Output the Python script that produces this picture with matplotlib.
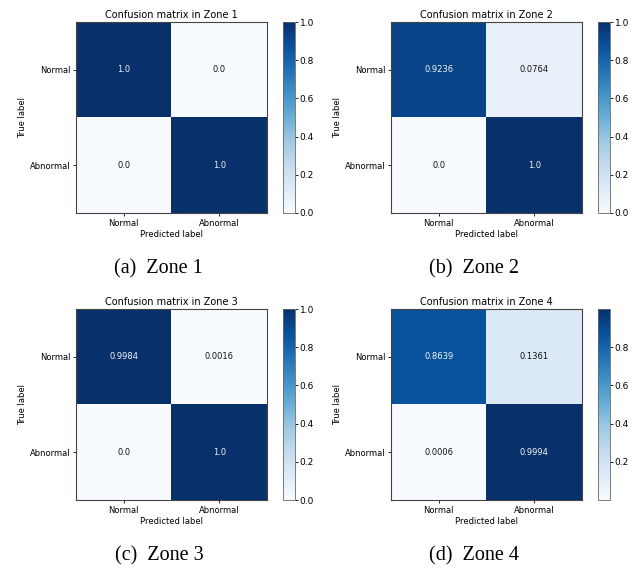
import numpy as np
import matplotlib
matplotlib.use('Agg')
import matplotlib.pyplot as plt

classes = ['Normal', 'Abnormal']
zones = ['Zone 1', 'Zone 2', 'Zone 3', 'Zone 4']
captions = ['(a)  Zone 1', '(b)  Zone 2', '(c)  Zone 3', '(d)  Zone 4']

cm_zone1 = [[1.0, 0.0], [0.0, 1.0]]
cm_zone2 = [[0.9236, 0.0764], [0.0, 1.0]]
cm_zone3 = [[0.9984, 0.0016], [0.0, 1.0]]
cm_zone4 = [[0.8639, 0.1361], [0.0006, 0.9994]]
matrices = [cm_zone1, cm_zone2, cm_zone3, cm_zone4]

W, H = 638, 568
fig = plt.figure(figsize=(W / 100, H / 100), dpi=100)

# pixel boxes (left, top) of each heatmap
boxes = [(76, 22), (391, 22), (76, 309), (391, 309)]
size = 191
cap_pos = [(158, 269), (474, 269), (159, 556), (474, 556)]


def px(x, y, w, h):
    return [x / W, 1 - (y + h) / H, w / W, h / H]


for i, cm in enumerate(matrices):
    cm = np.array(cm)
    x0, y0 = boxes[i]
    ax = fig.add_axes(px(x0, y0, size, size))
    cax = fig.add_axes(px(x0 + size + 16, y0, 12, size))
    im = ax.imshow(cm, interpolation='nearest', cmap=plt.cm.Blues)
    ax.set_title('Confusion matrix in ' + zones[i], fontsize=7, pad=3)
    cb = fig.colorbar(im, cax=cax)
    cb.ax.tick_params(labelsize=6.5, length=2.5, width=0.6, pad=1)
    cb.outline.set_linewidth(0.6)
    cb.outline.set_edgecolor('#666666')
    ticks = np.arange(len(classes))
    ax.set_xticks(ticks)
    ax.set_xticklabels(classes)
    ax.set_yticks(ticks)
    ax.set_yticklabels(classes)
    ax.tick_params(labelsize=6, length=2.5, width=0.6, pad=1.5)
    for s in ax.spines.values():
        s.set_linewidth(0.8)
        s.set_edgecolor('#444444')
    thresh = cm.max() / 2.
    for r in range(cm.shape[0]):
        for c in range(cm.shape[1]):
            ax.text(c, r, str(cm[r, c]), ha='center', va='center', fontsize=6,
                    color='#f4f4f4' if cm[r, c] > thresh else '#111111')
    ax.set_ylabel('True label', fontsize=6, labelpad=2)
    ax.set_xlabel('Predicted label', fontsize=6, labelpad=2)
    cx, cy = cap_pos[i]
    fig.text(cx / W, 1 - cy / H, captions[i], ha='center', va='center',
             fontsize=14.5, family='Liberation Serif')

fig.savefig('out.png', dpi=100)
